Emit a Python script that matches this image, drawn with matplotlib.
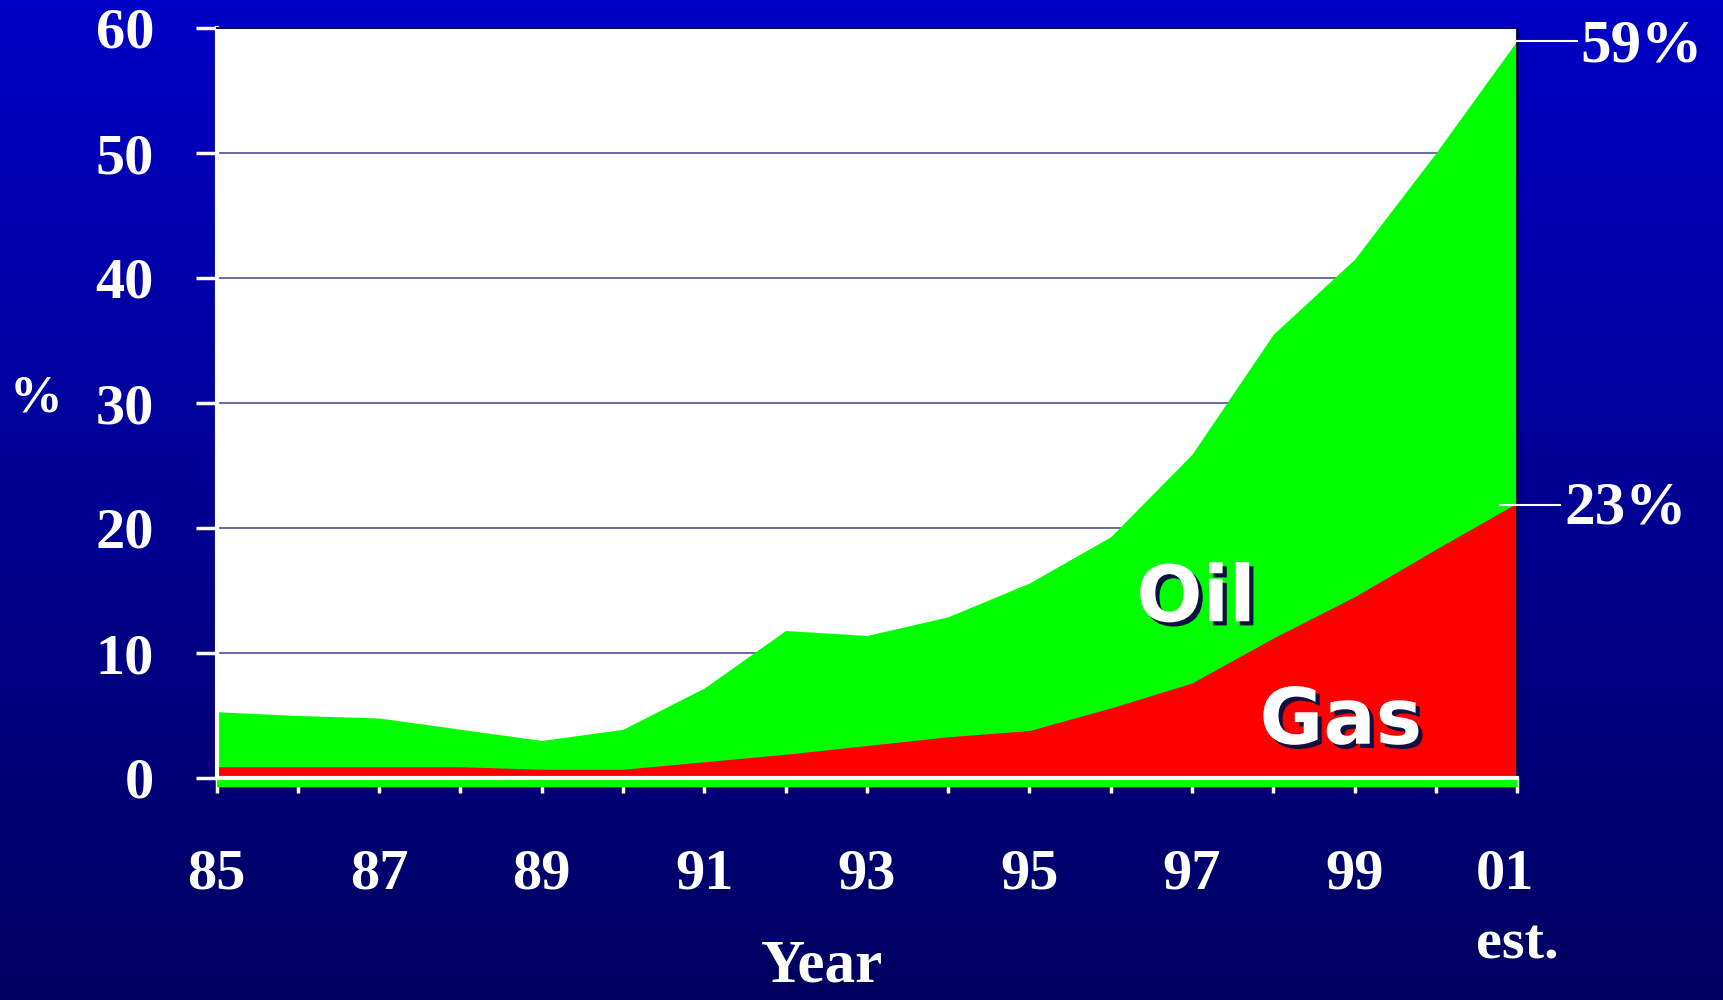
import numpy as np
import matplotlib.pyplot as plt
import matplotlib.patheffects as pe
from matplotlib.colors import LinearSegmentedColormap
from matplotlib.lines import Line2D

# data (share in %, stacked: gas below, oil on top)
years = ['85', '86', '87', '88', '89', '90', '91', '92', '93', '94',
         '95', '96', '97', '98', '99', '00', '01']
oil_top = [5.3, 5.0, 4.8, 3.9, 3.0, 3.9, 7.2, 11.8, 11.4, 12.9,
           15.6, 19.3, 25.9, 35.5, 41.5, 50.0, 59.0]
gas = [0.9, 0.9, 0.9, 0.9, 0.7, 0.7, 1.3, 1.9, 2.6, 3.3,
       3.8, 5.6, 7.6, 11.2, 14.5, 18.3, 22.0]
end_labels = [59, 23]
y_ticks = [0, 10, 20, 30, 40, 50, 60]

plt.rcParams['font.family'] = ['Liberation Serif', 'DejaVu Serif']
plt.rcParams['font.weight'] = 'bold'

fig = plt.figure(figsize=(17.23, 10), dpi=100)

# blue gradient background
bg = fig.add_axes([0, 0, 1, 1])
grad = np.linspace(1, 0, 256).reshape(-1, 1)
bg_cmap = LinearSegmentedColormap.from_list('bg', ['#000060', '#0000c6'])
bg.imshow(grad, aspect='auto', cmap=bg_cmap, extent=[0, 1, 0, 1])
bg.axis('off')

ax = fig.add_axes([0.1257, 0.222, 0.7548, 0.75])
ax.set_facecolor('white')
x = np.arange(len(years))

green = ax.fill_between(x, -0.7, oil_top, color='#00ff00', lw=0, zorder=1)
green.set_clip_on(False)
ax.fill_between(x, 0, gas, color='#ff0000', lw=0, zorder=1.1)

ax.set_xlim(0, 16)
ax.set_ylim(0, 60)
ax.set_yticks(y_ticks)
ax.set_yticklabels([str(v) for v in y_ticks])
ax.set_xticks(x)
xlabels = [y if i % 2 == 0 else '' for i, y in enumerate(years)]
xlabels[-1] = '01\nest.'
ax.set_xticklabels(xlabels)
for lbl in ax.get_xticklabels():
    lbl.set_multialignment('left')
    lbl.set_linespacing(1.45)

ax.yaxis.grid(True, color='#505096', lw=1.2)
ax.set_axisbelow(True)

ax.tick_params(axis='y', colors='white', length=15, width=2.5, pad=30, labelsize=42)
ax.tick_params(axis='x', colors='white', length=11, width=2.5, pad=40, labelsize=42)

for s in ['left', 'bottom']:
    ax.spines[s].set_color('white')
    ax.spines[s].set_linewidth(3)
ax.spines['top'].set_color('#101050')
ax.spines['top'].set_linewidth(1.5)
ax.spines['right'].set_color('#000050')
ax.spines['right'].set_linewidth(2)

shadow = [pe.SimplePatchShadow(offset=(3, -3), shadow_rgbFace='#101040', alpha=1),
          pe.Normal()]
ax.text(12.05, 14.3, 'Oil', color='white', fontsize=56, weight='bold',
        family='DejaVu Sans', ha='center', va='center', path_effects=shadow)
ax.text(13.83, 4.5, 'Gas', color='white', fontsize=56, weight='bold',
        family='DejaVu Sans', ha='center', va='center', path_effects=shadow)

# end-of-series callouts
fig.add_artist(Line2D([1516 / 1723, 1577 / 1723], [1 - 41 / 1000] * 2,
                      color='white', lw=1.5))
fig.text(1580 / 1723, 1 - 46 / 1000, f'{end_labels[0]}%', color='white',
         fontsize=44, ha='left', va='center')
fig.add_artist(Line2D([1500 / 1723, 1560 / 1723], [1 - 505 / 1000] * 2,
                      color='white', lw=1.5))
fig.text(1564 / 1723, 1 - 508 / 1000, f'{end_labels[1]}%', color='white',
         fontsize=44, ha='left', va='center')

fig.text(36 / 1723, 1 - 398 / 1000, '%', color='white', fontsize=38,
         ha='center', va='center')
fig.text(822 / 1723, 1 - 938 / 1000, 'Year', color='white', fontsize=44,
         ha='center', va='top')

fig.savefig('out.png', dpi=100)
